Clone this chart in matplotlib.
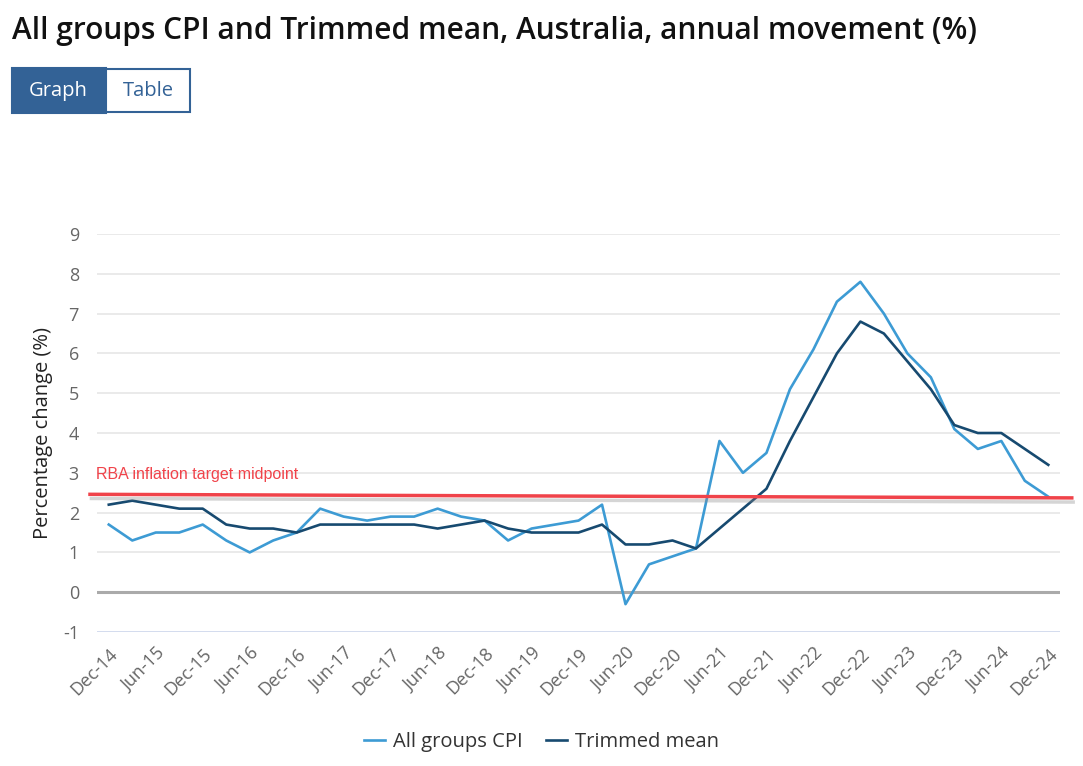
import matplotlib.pyplot as plt
import matplotlib.patches as mpatches
import matplotlib.patheffects as pe
import numpy as np

plt.rcParams['font.family'] = ['Open Sans', 'DejaVu Sans']

# quarterly, Dec-14 .. Dec-24
quarters = ['Dec-14', 'Mar-15', 'Jun-15', 'Sep-15', 'Dec-15', 'Mar-16', 'Jun-16', 'Sep-16',
            'Dec-16', 'Mar-17', 'Jun-17', 'Sep-17', 'Dec-17', 'Mar-18', 'Jun-18', 'Sep-18',
            'Dec-18', 'Mar-19', 'Jun-19', 'Sep-19', 'Dec-19', 'Mar-20', 'Jun-20', 'Sep-20',
            'Dec-20', 'Mar-21', 'Jun-21', 'Sep-21', 'Dec-21', 'Mar-22', 'Jun-22', 'Sep-22',
            'Dec-22', 'Mar-23', 'Jun-23', 'Sep-23', 'Dec-23', 'Mar-24', 'Jun-24', 'Sep-24',
            'Dec-24']
cpi = [1.7, 1.3, 1.5, 1.5, 1.7, 1.3, 1.0, 1.3, 1.5, 2.1, 1.9, 1.8, 1.9, 1.9, 2.1, 1.9,
       1.8, 1.3, 1.6, 1.7, 1.8, 2.2, -0.3, 0.7, 0.9, 1.1, 3.8, 3.0, 3.5, 5.1, 6.1, 7.3,
       7.8, 7.0, 6.0, 5.4, 4.1, 3.6, 3.8, 2.8, 2.4]
trimmed = [2.2, 2.3, 2.2, 2.1, 2.1, 1.7, 1.6, 1.6, 1.5, 1.7, 1.7, 1.7, 1.7, 1.7, 1.6, 1.7,
           1.8, 1.6, 1.5, 1.5, 1.5, 1.7, 1.2, 1.2, 1.3, 1.1, 1.6, 2.1, 2.6, 3.8, 4.9, 6.0,
           6.8, 6.5, 5.8, 5.1, 4.2, 4.0, 4.0, 3.6, 3.2]
rba_x = [-0.8, 41.0]
rba_y = [2.46, 2.37]
yticks = [-1, 0, 1, 2, 3, 4, 5, 6, 7, 8, 9]

light = '#3d9bd4'
dark = '#174a70'
red = '#f0434a'

fig = plt.figure(figsize=(10.83, 7.66), dpi=100)
ax = fig.add_axes([0.0896, 0.1749, 0.8892, 0.5196])

x = np.arange(len(quarters))
ax.plot(x, cpi, color=light, lw=1.9, label='All groups CPI', zorder=3)
ax.plot(x, trimmed, color=dark, lw=1.9, label='Trimmed mean', zorder=3)

ax.plot(rba_x, rba_y, color=red, lw=2.5, clip_on=False, zorder=4,
        path_effects=[pe.SimpleLineShadow(offset=(1, -3), shadow_color='#888888', alpha=0.35),
                      pe.Normal()])
ax.text(-0.55, 2.78, 'RBA inflation target midpoint', color=red, fontsize=11.5,
        family='Liberation Sans', va='bottom', ha='left')

ax.set_xlim(-0.5, 40.5)
ax.set_ylim(-1, 9)
ax.set_yticks(yticks)
ax.set_yticklabels([str(t) for t in yticks])
ax.set_xticks(x[::2])
ax.set_xticklabels(quarters[::2], rotation=45, ha='right', rotation_mode='anchor')

for t in yticks:
    if t == 0:
        ax.axhline(t, color='#aaaaaa', lw=2.2, zorder=2)
    elif t == -1:
        ax.axhline(t, color='#ccd6eb', lw=1.2, zorder=2)
    else:
        ax.axhline(t, color='#e6e6e6', lw=1.2, zorder=1)

for s in ax.spines.values():
    s.set_visible(False)
ax.tick_params(axis='both', length=0, labelsize=13, labelcolor='#666666')
ax.tick_params(axis='y', pad=13)
ax.tick_params(axis='x', pad=9)
ax.set_ylabel('Percentage change (%)', fontsize=14.5, color='#222222', labelpad=7,
              fontweight='medium')

fig.text(0.011, 0.959, 'All groups CPI and Trimmed mean, Australia, annual movement (%)',
         fontsize=21.5, fontweight='semibold', color='#111111', va='center')

# Graph / Table toggle
fig.patches.append(mpatches.Rectangle((12 / 1083, 1 - 113 / 766), 94 / 1083, 45 / 766,
                                      transform=fig.transFigure, facecolor='#336296',
                                      edgecolor='#336296', lw=1.5))
fig.patches.append(mpatches.Rectangle((106 / 1083, 1 - 112 / 766), 84 / 1083, 43 / 766,
                                      transform=fig.transFigure, facecolor='white',
                                      edgecolor='#336296', lw=1.5))
fig.text(58 / 1083, 1 - 91 / 766, 'Graph', color='white', fontsize=14.5, ha='center', va='center')
fig.text(148 / 1083, 1 - 91 / 766, 'Table', color='#336296', fontsize=14.5, ha='center', va='center')

fig.legend(loc='center', bbox_to_anchor=(0.5, 1 - 742 / 766), ncol=2, frameon=False,
           fontsize=14.5, handlelength=1.0, handletextpad=0.4, columnspacing=1.2,
           labelcolor='#333333')

fig.savefig('out.png', dpi=100)
